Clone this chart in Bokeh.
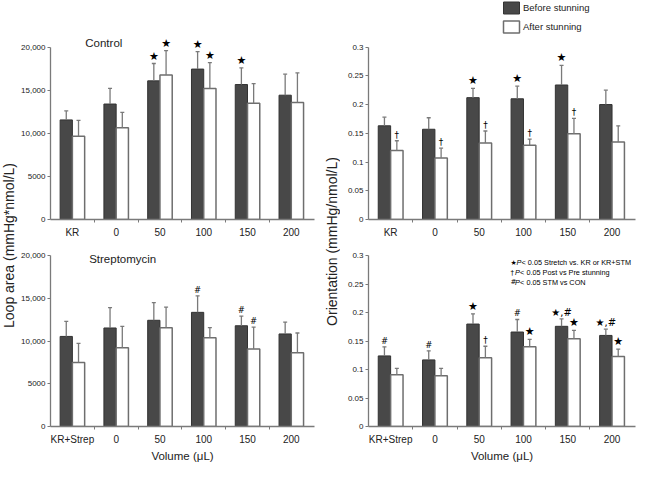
import math
from bokeh.plotting import figure
from bokeh.layouts import row, column
from bokeh.models import (ColumnDataSource, FixedTicker, Whisker, TeeHead, Label,
                          Legend, LegendItem, Range1d)
from bokeh.core.properties import value
from bokeh.embed import file_html
from bokeh.resources import INLINE

# ---------------- data ----------------
ctrl_categories = ["KR", "0", "50", "100", "150", "200"]
strep_categories = ["KR+Strep", "0", "50", "100", "150", "200"]

loop_ctrl_before = [11600, 13450, 16150, 17520, 15720, 14480]
loop_ctrl_before_sd = [1050, 1830, 2020, 2040, 1940, 2450]
loop_ctrl_after = [9700, 10680, 16820, 15260, 13540, 13640]
loop_ctrl_after_sd = [1850, 1790, 2850, 3010, 2290, 3430]
loop_ctrl_sig_before = ["", "", "★", "★", "★", ""]
loop_ctrl_sig_after = ["", "", "★", "★", "", ""]

orient_ctrl_before = [0.163, 0.157, 0.212, 0.210, 0.234, 0.200]
orient_ctrl_before_sd = [0.015, 0.020, 0.016, 0.022, 0.034, 0.025]
orient_ctrl_after = [0.120, 0.107, 0.133, 0.129, 0.149, 0.135]
orient_ctrl_after_sd = [0.017, 0.017, 0.021, 0.011, 0.027, 0.028]
orient_ctrl_sig_before = ["", "", "★", "★", "★", ""]
orient_ctrl_sig_after = ["†", "†", "†", "†", "†", ""]

loop_strep_before = [10550, 11540, 12440, 13370, 11800, 10840]
loop_strep_before_sd = [1760, 2380, 2060, 1940, 1130, 1390]
loop_strep_after = [7510, 9230, 11570, 10400, 9080, 8650]
loop_strep_after_sd = [2230, 2490, 2420, 1170, 2570, 2300]
loop_strep_sig_before = ["", "", "", "#", "#", ""]
loop_strep_sig_after = ["", "", "", "", "#", ""]

orient_strep_before = [0.124, 0.117, 0.180, 0.166, 0.176, 0.160]
orient_strep_before_sd = [0.016, 0.016, 0.018, 0.022, 0.013, 0.011]
orient_strep_after = [0.091, 0.089, 0.121, 0.140, 0.154, 0.123]
orient_strep_after_sd = [0.011, 0.013, 0.020, 0.013, 0.015, 0.013]
orient_strep_sig_before = ["#", "#", "★", "#", "★,#", "★,#"]
orient_strep_sig_after = ["", "", "†", "★", "★", "★"]

loop_ticks = [0, 5000, 10000, 15000, 20000]
loop_tick_labels = ["0", "5000", "10,000", "15,000", "20,000"]
orient_ticks = [0, 0.05, 0.1, 0.15, 0.2, 0.25, 0.3]
orient_tick_labels = ["0", "0.05", "0.1", "0.15", "0.2", "0.25", "0.3"]

series_names = ["Before stunning", "After stunning"]
sig_symbols = ["★", "†", "#"]
sig_texts = ["< 0.05 Stretch vs. KR or KR+STM", "< 0.05 Post vs Pre stunning",
             "< 0.05 STM vs CON"]

# ---------------- style ----------------
FONT = "Liberation Sans"
DARK = "#484848"
DARK_LINE = "#333333"
WHITE_LINE = "#6e6e6e"
AXIS = "#7a7a7a"
ERR = "#7a7a7a"
TXT = "#222222"
MARK_SIZE = {"★": "11px", "†": "9px", "#": "8.5px", "★,#": "10px", "": "8px"}
MARK_STYLE = {"★": "normal", "†": "normal", "#": "italic", "★,#": "normal", "": "normal"}


def panel(width, height, bl, br, bt, bb, cats, before, before_sd, after, after_sd,
          sig_b, sig_a, yend, ybound, ticks, tick_labels, xlabel=None):
    p = figure(width=width, height=height, output_backend="svg", toolbar_location=None,
               x_range=Range1d(-0.5, 5.53), y_range=Range1d(0, yend),
               min_border_left=bl, min_border_right=br, min_border_top=bt,
               min_border_bottom=bb)
    p.outline_line_color = None
    p.grid.visible = False
    idx = list(range(len(cats)))
    off, w = 0.14, 0.28
    src = ColumnDataSource(dict(
        xb=[i - off for i in idx], xa=[i + off for i in idx],
        b=before, a=after,
        bu=[v + s for v, s in zip(before, before_sd)],
        au=[v + s for v, s in zip(after, after_sd)],
        sb=sig_b, sa=sig_a,
        fb=[MARK_SIZE[s] for s in sig_b], fa=[MARK_SIZE[s] for s in sig_a],
        stb=[MARK_STYLE[s] for s in sig_b], sta=[MARK_STYLE[s] for s in sig_a]))
    rb = p.vbar(x="xb", top="b", width=w, source=src, fill_color=DARK,
                line_color=DARK_LINE, line_width=1)
    ra = p.vbar(x="xa", top="a", width=w, source=src, fill_color="white",
                line_color=WHITE_LINE, line_width=1.5)
    for xs, lo, hi in (("xb", "b", "bu"), ("xa", "a", "au")):
        wh = Whisker(source=src, base=xs, lower=lo, upper=hi, dimension="height",
                     line_color=ERR, line_width=1.3,
                     upper_head=TeeHead(size=4, line_color=ERR, line_width=1.3),
                     lower_head=None, level="glyph")
        p.add_layout(wh)
    for xs, ys, ts, fs, st in (("xb", "bu", "sb", "fb", "stb"), ("xa", "au", "sa", "fa", "sta")):
        p.text(x=xs, y=ys, text=ts, source=src, text_font=value("DejaVu Sans"),
               text_font_size=fs, text_font_style=st, text_align="center",
               text_baseline="bottom", y_offset=-1, text_color="black")

    xa_ = p.xaxis[0]
    xa_.ticker = FixedTicker(ticks=idx, minor_ticks=[i + 0.5 for i in idx[:-1]])
    xa_.major_label_overrides = {i: c for i, c in enumerate(cats)}
    xa_.major_tick_out = 0
    xa_.major_tick_in = 0
    xa_.minor_tick_out = 3
    xa_.minor_tick_in = 0
    xa_.major_label_standoff = 4
    xa_.major_label_text_font = FONT
    xa_.major_label_text_font_size = "10px"
    xa_.major_label_text_color = TXT
    for ax in (p.xaxis[0], p.yaxis[0]):
        ax.axis_line_color = AXIS
        ax.axis_line_width = 1.3
        ax.major_tick_line_color = AXIS
        ax.minor_tick_line_color = AXIS
        ax.major_tick_line_width = 1
    if xlabel:
        xa_.axis_label = xlabel
        xa_.axis_label_text_font = FONT
        xa_.axis_label_text_font_size = "11.5px"
        xa_.axis_label_text_font_style = "normal"
        xa_.axis_label_text_color = TXT
        xa_.axis_label_standoff = 2

    ya = p.yaxis[0]
    ya.ticker = FixedTicker(ticks=ticks)
    ya.major_label_overrides = dict(zip(ticks, tick_labels))
    ya.bounds = (0, ybound)
    ya.major_tick_out = 3
    ya.major_tick_in = 0
    ya.minor_tick_out = 0
    ya.minor_tick_in = 0
    ya.major_label_standoff = 2
    ya.major_label_text_font = FONT
    ya.major_label_text_font_size = "8px"
    ya.major_label_text_color = TXT
    return p, rb, ra


def label_fig(width, height, text, x, y):
    f = figure(width=width, height=height, output_backend="svg", toolbar_location=None,
               x_range=Range1d(0, 1), y_range=Range1d(0, 1), min_border=0,
               x_axis_location=None, y_axis_location=None)
    f.outline_line_color = None
    f.grid.visible = False
    f.add_layout(Label(x=x, y=y, text=text, angle=math.pi / 2, text_align="center",
                       text_baseline="middle", text_font=FONT, text_font_size="14px",
                       text_color=TXT))
    return f


# top-left
tl, _, _ = panel(304, 240, 31, 8, 37, 16, ctrl_categories,
                 loop_ctrl_before, loop_ctrl_before_sd, loop_ctrl_after, loop_ctrl_after_sd,
                 loop_ctrl_sig_before, loop_ctrl_sig_after, 21200, 20000,
                 loop_ticks, loop_tick_labels)
tl.add_layout(Label(x=0.294, y=20577, text="Control", text_font=FONT, text_font_size="11.5px",
                    text_baseline="middle", text_color=TXT))

# bottom-left
bl, _, _ = panel(304, 224, 31, 8, 5, 33, strep_categories,
                 loop_strep_before, loop_strep_before_sd, loop_strep_after, loop_strep_after_sd,
                 loop_strep_sig_before, loop_strep_sig_after, 21200, 20000,
                 loop_ticks, loop_tick_labels, xlabel="Volume (μL)")
bl.add_layout(Label(x=0.383, y=19661, text="Streptomycin", text_font=FONT,
                    text_font_size="11.5px", text_baseline="middle", text_color=TXT))

# top-right (frame reaches the canvas top so that the legend sits inside it)
tr, rb, ra = panel(297, 240, 28, 2, 0, 16, ctrl_categories,
                   orient_ctrl_before, orient_ctrl_before_sd, orient_ctrl_after,
                   orient_ctrl_after_sd, orient_ctrl_sig_before, orient_ctrl_sig_after,
                   0.381, 0.3, orient_ticks, orient_tick_labels)
legend = Legend(items=[LegendItem(label=series_names[0], renderers=[rb]),
                       LegendItem(label=series_names[1], renderers=[ra])],
                location=(133, 185), padding=0, margin=0, spacing=4,
                glyph_width=20, glyph_height=15, label_height=15, label_standoff=2,
                border_line_color=None, background_fill_alpha=0,
                label_text_font=FONT, label_text_font_size="9.5px",
                label_text_color=TXT)
tr.add_layout(legend)

# bottom-right
br, _, _ = panel(297, 224, 28, 2, 5, 33, strep_categories,
                 orient_strep_before, orient_strep_before_sd, orient_strep_after,
                 orient_strep_after_sd, orient_strep_sig_before, orient_strep_sig_after,
                 0.318, 0.3, orient_ticks, orient_tick_labels, xlabel="Volume (μL)")
sig_y = [0.2875, 0.2705, 0.2535]
p_off = [6.0, 4.6, 4.6]
t_off = [11.0, 9.6, 9.6]
for sym, txt, yy, po, to in zip(sig_symbols, sig_texts, sig_y, p_off, t_off):
    br.add_layout(Label(x=2.707, y=yy, text=sym, text_font="DejaVu Sans",
                        text_font_size="7px", text_baseline="middle", text_color="black"))
    br.add_layout(Label(x=2.707, y=yy, x_offset=po, text="P", text_font=FONT,
                        text_font_style="italic", text_font_size="7.3px",
                        text_baseline="middle", text_color="black"))
    br.add_layout(Label(x=2.707, y=yy, x_offset=to, text=txt, text_font=FONT,
                        text_font_size="7.3px", text_baseline="middle", text_color="black"))

labL = label_fig(18, 464, "Loop area (mmHg*nmol/L)", 0.47, (464 - 245) / 464)
labM = label_fig(18, 464, "Orientation (mmHg/nmol/L)", 0.53, (464 - 241) / 464)

layout = row(labL, column(tl, bl), labM, column(tr, br))

open("out.html", "w").write(file_html(layout, INLINE))
